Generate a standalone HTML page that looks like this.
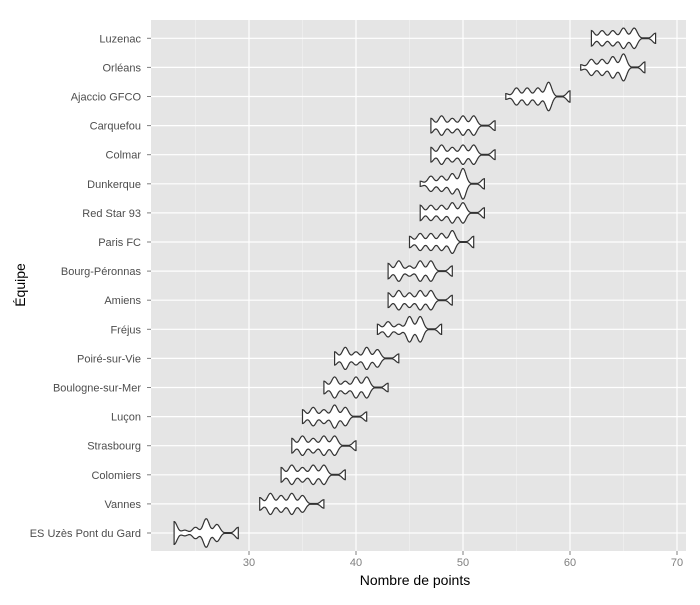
<!DOCTYPE html>
<html><head><meta charset="utf-8"><style>
body{margin:0;background:#fff;}
svg text{font-family:"Liberation Sans",sans-serif;}
</style></head><body>
<svg id="chart" width="700" height="600">
<rect x="151" y="20" width="535" height="531" fill="#e5e5e5"/>
<g id="grid"></g><g id="violins"></g><g id="axes"></g>
<text x="415" y="585" font-size="14" text-anchor="middle" fill="#000">Nombre de points</text>
<text x="25" y="285" font-size="14" text-anchor="middle" fill="#000" transform="rotate(-90 25 285)">Équipe</text>
</svg>
<script>
const teams=["Luzenac","Orléans","Ajaccio GFCO","Carquefou","Colmar","Dunkerque","Red Star 93","Paris FC","Bourg-Péronnas","Amiens","Fréjus","Poiré-sur-Vie","Boulogne-sur-Mer","Luçon","Strasbourg","Colomiers","Vannes","ES Uzès Pont du Gard"];
const minPts=[62,61,54,47,47,46,46,45,43,43,42,38,37,35,34,33,31,23];
const counts=[
[3,3,3,4,4,0,2],[1,3,3,4,5,0,2],[1,3,3,3,5,0,2],[3,4,3,4,4,0,2],[3,4,3,4,4,0,2],
[1,3,3,4,6,0,2],[3,3,3,4,4,0,2],[2,3,3,3,4,0,2],[3,4,2,4,4,0,2],[3,4,3,4,4,0,2],
[2,3,2,5,5,0,2],[3,5,3,5,4,0,2],[3,5,3,5,5,0,2],[3,4,3,5,4,0,2],[3,4,3,4,4,0,2],
[3,4,3,4,4,0,2],[3,5,4,5,4,0,2],[4,1,2,5,3,0,2]];
const xTicks=[30,40,50,60,70];
const xMinor=[25,35,45,55,65];
const NS="http://www.w3.org/2000/svg";
const xs=v=>249+(v-30)*10.7;
const ys=i=>38.3+i*29.1;
function mk(t,a,p){const e=document.createElementNS(NS,t);for(const k in a)e.setAttribute(k,a[k]);p.appendChild(e);return e;}
const grid=document.getElementById('grid'),ax=document.getElementById('axes'),vg=document.getElementById('violins');
xMinor.forEach(v=>{const l=mk('line',{x1:xs(v),x2:xs(v),y1:20,y2:551,stroke:'#f2f2f2','stroke-width':0.6},grid);

});
xTicks.forEach(v=>{const l=mk('line',{x1:xs(v),x2:xs(v),y1:20,y2:551,stroke:'#fff','stroke-width':1.2},grid);


const t=mk('line',{x1:xs(v),x2:xs(v),y1:551,y2:555,stroke:'#7f7f7f','stroke-width':1},ax);


const tx=mk('text',{x:xs(v),y:566,'font-size':11,'text-anchor':'middle',fill:'#7f7f7f'},ax);tx.textContent=v;

});
teams.forEach((n,i)=>{const y=ys(i);
const l=mk('line',{x1:151,x2:686,y1:y,y2:y,stroke:'#fff','stroke-width':1.2},grid);


const t=mk('line',{x1:147,x2:151,y1:y,y2:y,stroke:'#7f7f7f','stroke-width':1},ax);


const tx=mk('text',{x:141,y:y+4,'font-size':11,'text-anchor':'end',fill:'#4d4d4d'},ax);tx.textContent=n;


const c=counts[i],mn=minPts[i],mx=mn+c.length-1,tot=c.reduce((a,b)=>a+b,0),bw=0.28,K=34;
const top=[],bot=[];
for(let s=0;s<=240;s++){const x=mn+(mx-mn)*s/240;let d=0;
c.forEach((k,j)=>{const z=(x-(mn+j))/bw;d+=k*Math.exp(-0.5*z*z);});
d=d/(tot*bw*Math.sqrt(2*Math.PI));const w=Math.max(d*K,0.4);
top.push(xs(x).toFixed(1)+','+(y-w).toFixed(1));bot.unshift(xs(x).toFixed(1)+','+(y+w).toFixed(1));}
const p=mk('polygon',{points:top.concat(bot).join(' '),fill:'#fff',stroke:'#333','stroke-width':1.2},vg);

});
</script>
</body></html>
